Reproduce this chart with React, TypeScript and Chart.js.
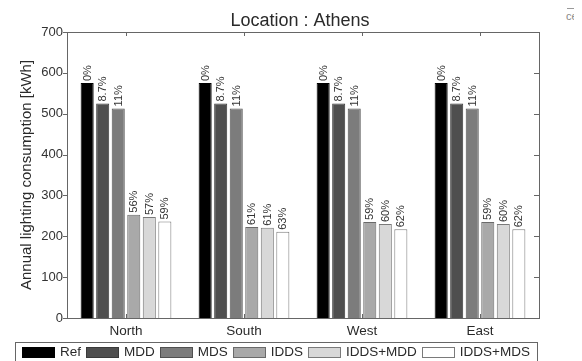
import React, { useEffect, useRef } from "react";
import { Chart, registerables } from "chart.js";

Chart.register(...registerables);

const categories = ["North", "South", "West", "East"];
const seriesNames = ["Ref", "MDD", "MDS", "IDDS", "IDDS+MDD", "IDDS+MDS"];
const refValues = [575, 575, 575, 575];
const mddValues = [525, 525, 525, 525];
const mdsValues = [513, 513, 513, 513];
const iddsValues = [253, 223, 235, 235];
const iddsMddValues = [247, 221, 230, 230];
const iddsMdsValues = [236, 211, 217, 217];
const refLabels = ["0%", "0%", "0%", "0%"];
const mddLabels = ["8.7%", "8.7%", "8.7%", "8.7%"];
const mdsLabels = ["11%", "11%", "11%", "11%"];
const iddsLabels = ["56%", "61%", "59%", "59%"];
const iddsMddLabels = ["57%", "61%", "60%", "60%"];
const iddsMdsLabels = ["59%", "63%", "62%", "62%"];
const yTicks = [0, 100, 200, 300, 400, 500, 600, 700];
const titleText = "Location : Athens";
const yTitle = "Annual lighting consumption [kWh]";

const seriesValues = [refValues, mddValues, mdsValues, iddsValues, iddsMddValues, iddsMdsValues];
const seriesLabels = [refLabels, mddLabels, mdsLabels, iddsLabels, iddsMddLabels, iddsMdsLabels];
const fills = ["#000000", "#4f4f4f", "#7c7c7c", "#a9a9a9", "#d8d8d8", "#ffffff"];
const borders = ["#000000", "#3a3a3a", "#505050", "#6a6a6a", "#7a7a7a", "#7a7a7a"];

const FONT = "'Liberation Sans', Arial, sans-serif";

const decorPlugin = {
  id: "decor",
  afterDatasetsDraw(chart: any) {
    const ctx = chart.ctx;
    ctx.save();
    ctx.fillStyle = "#333";
    ctx.font = `11px ${FONT}`;
    chart.data.datasets.forEach((ds: any, i: number) => {
      const meta = chart.getDatasetMeta(i);
      meta.data.forEach((el: any, j: number) => {
        ctx.save();
        ctx.translate(el.x + 0.5, el.y - 2);
        ctx.rotate(-Math.PI / 2);
        ctx.textAlign = "left";
        ctx.textBaseline = "middle";
        ctx.fillText(seriesLabels[i][j], 0, 0);
        ctx.restore();
      });
    });
    ctx.restore();
  },
  afterDraw(chart: any) {
    const ctx = chart.ctx;
    const { left, right, top, bottom } = chart.chartArea;
    const xs = chart.scales.x;
    const ys = chart.scales.y;
    ctx.save();
    ctx.strokeStyle = "#666";
    ctx.lineWidth = 1;
    ctx.strokeRect(Math.round(left) + 0.5, Math.round(top) + 0.5, Math.round(right - left), Math.round(bottom - top));
    ctx.beginPath();
    yTicks.forEach((v) => {
      const py = Math.round(ys.getPixelForValue(v)) + 0.5;
      ctx.moveTo(left - 4, py);
      ctx.lineTo(left, py);
      ctx.moveTo(right - 5, py);
      ctx.lineTo(right, py);
    });
    categories.forEach((_, i) => {
      const px = Math.round(xs.getPixelForValue(i)) + 0.5;
      ctx.moveTo(px, top);
      ctx.lineTo(px, top + 4);
      ctx.moveTo(px, bottom);
      ctx.lineTo(px, bottom - 4);
    });
    ctx.stroke();

    ctx.fillStyle = "#2a2a2a";
    ctx.font = `18px ${FONT}`;
    ctx.textAlign = "center";
    ctx.textBaseline = "alphabetic";
    ctx.fillText(titleText, (left + right) / 2 - 3, 17.5);

    const fx = 7, fy = 334, fw = 522, fh = 19;
    ctx.strokeStyle = "#666";
    ctx.strokeRect(fx + 0.5, fy + 0.5, fw, fh);
    ctx.font = `13.5px ${FONT}`;
    ctx.textAlign = "left";
    ctx.textBaseline = "middle";
    const sw = 33, sh = 11, gapT = 5;
    const widths = chart.data.datasets.map((d: any) => ctx.measureText(d.label).width);
    const total = widths.reduce((a: number, b: number) => a + b, 0) + chart.data.datasets.length * (sw + gapT);
    const inner = fw - 14;
    const gap = (inner - total) / (chart.data.datasets.length - 1);
    let x = fx + 7;
    const cy = fy + fh / 2 + 1;
    chart.data.datasets.forEach((d: any, i: number) => {
      ctx.fillStyle = d.backgroundColor;
      ctx.fillRect(Math.round(x), Math.round(cy - sh / 2), sw, sh);
      ctx.strokeStyle = d.borderColor;
      ctx.strokeRect(Math.round(x) + 0.5, Math.round(cy - sh / 2) + 0.5, sw - 1, sh - 1);
      ctx.fillStyle = "#2a2a2a";
      ctx.fillText(d.label, x + sw + gapT, cy);
      x += sw + gapT + widths[i] + gap;
    });
    ctx.restore();
  },
};

export default function App() {
  const ref = useRef<HTMLCanvasElement>(null);
  useEffect(() => {
    if (!ref.current) return;
    const chart = new Chart(ref.current, {
      type: "bar",
      data: {
        labels: categories,
        datasets: seriesNames.map((name, i) => ({
          label: name,
          data: seriesValues[i],
          backgroundColor: fills[i],
          borderColor: borders[i],
          borderWidth: 1,
          categoryPercentage: 0.79,
          barPercentage: 0.84,
        })),
      },
      options: {
        responsive: false,
        animation: false,
        devicePixelRatio: 1,
        layout: { padding: { top: 24, right: 6, bottom: 19, left: 0 } },
        plugins: { legend: { display: false }, title: { display: false }, tooltip: { enabled: false } },
        scales: {
          x: {
            grid: { display: false, drawTicks: false },
            border: { display: false },
            ticks: { color: "#2a2a2a", font: { size: 13.5, family: FONT }, padding: 5 },
            afterFit: (s: any) => { s.height = 24; },
          },
          y: {
            min: 0,
            max: 700,
            grid: { display: false, drawTicks: false },
            border: { display: false },
            ticks: { stepSize: 100, color: "#333", font: { size: 13, family: FONT }, padding: 4 },
            title: { display: true, text: yTitle, color: "#2a2a2a", font: { size: 15, family: FONT }, padding: { top: 10, bottom: 0 } },
            afterFit: (s: any) => { s.width = 59; },
          },
        },
      },
      plugins: [decorPlugin],
    });
    return () => chart.destroy();
  }, []);
  return (
    <div style={{ position: "relative", width: 566, height: 353, overflow: "visible" }}>
      <canvas ref={ref} width={537} height={353} style={{ display: "block", width: 537, height: 353 }} />
      <div style={{ position: "absolute", left: 559, top: 0, width: 7, height: 1, background: "#999" }} />
      <div style={{ position: "absolute", left: 558, top: 2, width: 8, overflow: "visible", whiteSpace: "nowrap", fontFamily: FONT, fontSize: 11, color: "#888", lineHeight: "12px" }}>ce</div>
    </div>
  );
}
